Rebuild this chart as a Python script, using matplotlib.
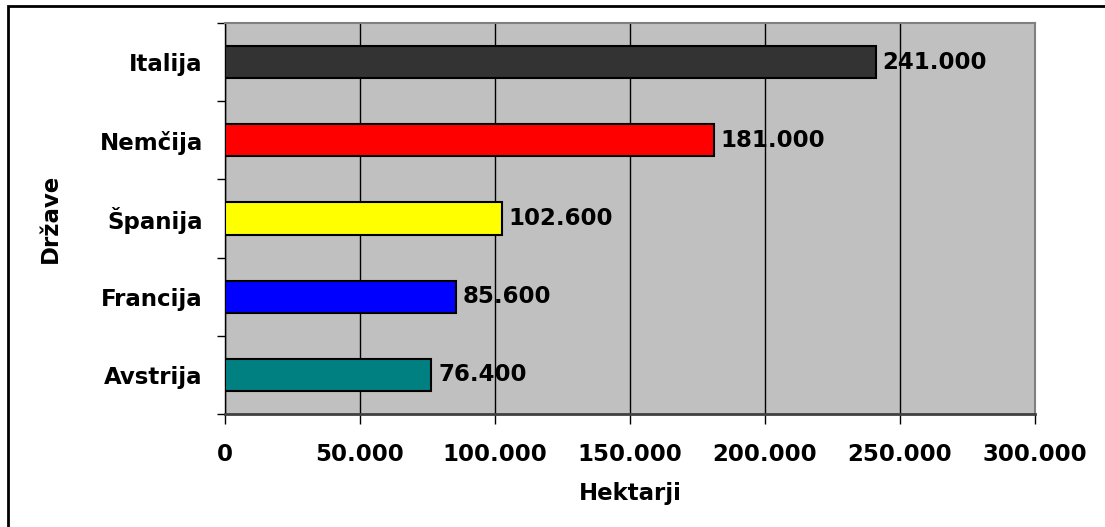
import matplotlib.pyplot as plt
from matplotlib.patches import Rectangle
from matplotlib.ticker import FuncFormatter, MultipleLocator

countries = ["Avstrija", "Francija", "Španija", "Nemčija", "Italija"]
hectares = [76400, 85600, 102600, 181000, 241000]
colors = ["#008080", "#0000FF", "#FFFF00", "#FF0000", "#333333"]


def dot_thousands(v, pos=None):
    return f"{int(round(v)):,}".replace(",", ".")


plt.rcParams["font.family"] = ["DejaVu Sans"]
plt.rcParams["font.weight"] = "bold"
FS = 16.5

fig = plt.figure(figsize=(11.05, 5.27), dpi=100)
fig.patches.append(Rectangle((8 / 1105, -0.1), 1.2, 1 - 6 / 527 + 0.1,
                             transform=fig.transFigure, fill=False,
                             edgecolor="black", linewidth=2, zorder=0))

ax = fig.add_axes([225 / 1105, 1 - 414 / 527, 810 / 1105, 391 / 527])
ax.set_facecolor("#C0C0C0")

ypos = range(len(countries))
ax.barh(ypos, hectares, height=0.41, color=colors, edgecolor="black",
        linewidth=1.5, zorder=3)
for y, v in zip(ypos, hectares):
    ax.text(v + 2500, y, dot_thousands(v), va="center", ha="left",
            fontsize=FS, fontweight="bold", zorder=4)

ax.set_xlim(0, 300000)
ax.set_ylim(-0.5, len(countries) - 0.5)
ax.xaxis.set_major_locator(MultipleLocator(50000))
ax.xaxis.set_major_formatter(FuncFormatter(dot_thousands))
ax.grid(axis="x", color="black", linewidth=1, zorder=1)

ax.set_yticks(list(ypos))
ax.set_yticklabels(countries)
ax.set_yticks([i - 0.5 for i in range(len(countries) + 1)], minor=True)
ax.tick_params(axis="y", which="major", length=0, pad=16, labelsize=FS)
ax.tick_params(axis="y", which="minor", length=6, width=1, color="black")
ax.tick_params(axis="x", length=7, width=1, pad=14, labelsize=FS)

for side in ["top", "right"]:
    ax.spines[side].set_color("#808080")
    ax.spines[side].set_linewidth(1.5)
ax.spines["left"].set_color("black")
ax.spines["left"].set_linewidth(1)
ax.spines["bottom"].set_color("#404040")
ax.spines["bottom"].set_linewidth(2)

ax.set_xlabel("Hektarji", fontsize=FS, fontweight="bold")
ax.set_ylabel("Države", fontsize=FS, fontweight="bold")
ax.xaxis.set_label_coords(0.5, -0.174)
ax.yaxis.set_label_coords(-0.201, 0.5)

fig.savefig("out.png", dpi=100)
